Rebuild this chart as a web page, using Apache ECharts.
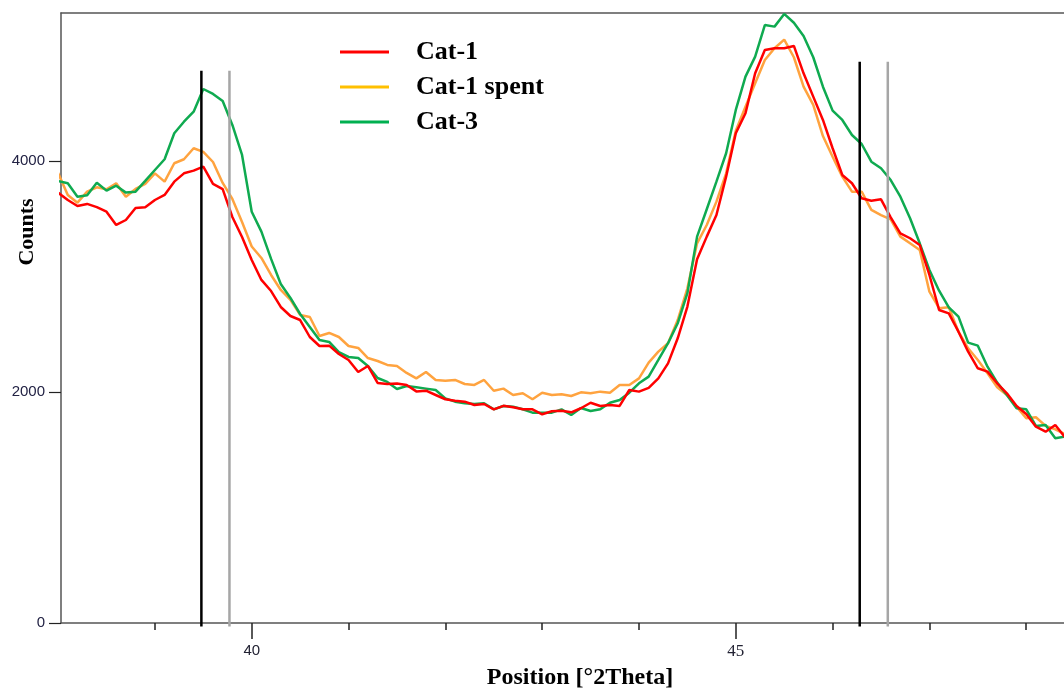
<!DOCTYPE html>
<html>
<head>
<meta charset="utf-8">
<script src="https://cdn.jsdelivr.net/npm/echarts@6/dist/echarts.min.js"></script>
<style>html,body{margin:0;padding:0;background:#fff;}#c{width:1064px;height:689px;}</style>
</head>
<body>
<div id="c"></div>
<script>
// Position [°2Theta]
const positions = [
 38.0,38.1,38.2,38.3,38.4,38.5,38.6,38.7,38.8,38.9,
 39.0,39.1,39.2,39.3,39.4,39.5,39.6,39.7,39.8,39.9,
 40.0,40.1,40.2,40.3,40.4,40.5,40.6,40.7,40.8,40.9,
 41.0,41.1,41.2,41.3,41.4,41.5,41.6,41.7,41.8,41.9,
 42.0,42.1,42.2,42.3,42.4,42.5,42.6,42.7,42.8,42.9,
 43.0,43.1,43.2,43.3,43.4,43.5,43.6,43.7,43.8,43.9,
 44.0,44.1,44.2,44.3,44.4,44.5,44.6,44.7,44.8,44.9,
 45.0,45.1,45.2,45.3,45.4,45.5,45.6,45.7,45.8,45.9,
 46.0,46.1,46.2,46.3,46.4,46.5,46.6,46.7,46.8,46.9,
 47.0,47.1,47.2,47.3,47.4,47.5,47.6,47.7,47.8,47.9,
 48.0,48.1,48.2,48.3,48.4
];
const cat1 = [
 3726,3662,3610,3628,3600,3561,3446,3489,3593,3599,
 3662,3706,3821,3893,3916,3951,3801,3757,3515,3342,
 3143,2970,2874,2736,2658,2623,2476,2398,2401,2329,
 2277,2173,2225,2078,2069,2074,2061,2005,2011,1974,
 1937,1925,1916,1887,1896,1850,1880,1868,1850,1850,
 1807,1833,1838,1824,1859,1907,1879,1887,1879,2017,
 2003,2035,2118,2248,2465,2739,3149,3345,3532,3864,
 4240,4413,4759,4961,4976,4976,4996,4759,4557,4355,
 4110,3879,3807,3677,3656,3668,3512,3374,3331,3273,
 3013,2710,2681,2522,2349,2205,2176,2075,1989,1879,
 1810,1700,1656,1714,1608
];
const cat1Spent = [
 3896,3706,3639,3734,3772,3755,3807,3691,3758,3801,
 3893,3821,3980,4015,4110,4078,3991,3810,3671,3472,
 3260,3160,3013,2883,2797,2667,2649,2485,2511,2476,
 2398,2381,2294,2268,2234,2225,2165,2118,2173,2104,
 2098,2104,2069,2061,2104,2011,2029,1974,1989,1937,
 1994,1974,1980,1965,1997,1989,2003,1994,2061,2061,
 2118,2254,2349,2422,2623,2898,3287,3446,3648,3893,
 4262,4470,4673,4874,4976,5050,4898,4643,4485,4216,
 4037,3864,3734,3734,3576,3532,3495,3345,3287,3229,
 2868,2725,2733,2522,2378,2277,2162,2041,1974,1873,
 1772,1781,1706,1677,1636
];
const cat3 = [
 3827,3807,3691,3703,3812,3743,3786,3726,3734,3827,
 3922,4015,4240,4340,4427,4623,4580,4519,4312,4052,
 3561,3388,3152,2935,2814,2675,2563,2450,2433,2346,
 2303,2294,2225,2121,2087,2026,2052,2041,2029,2017,
 1945,1916,1902,1896,1902,1850,1879,1873,1850,1821,
 1821,1821,1850,1801,1861,1835,1850,1907,1931,1994,
 2075,2133,2277,2422,2595,2855,3345,3582,3821,4067,
 4442,4730,4903,5177,5163,5273,5197,5082,4898,4643,
 4436,4355,4225,4147,3994,3937,3835,3691,3504,3287,
 3056,2877,2733,2652,2427,2401,2219,2081,1974,1859,
 1850,1706,1714,1599,1613
];
// reference lines
const refLineX = [39.48, 39.77, 46.28, 46.57];
const refLineTop = [4780, 4780, 4860, 4860];
const refLineColor = ['#000000', '#A6A6A6', '#000000', '#A6A6A6'];
const refLineBottom = -30;
// axes
const xMin = 38.03, xMax = 48.39;
const yMin = 0, yMax = 5281;
const yTickValues = [0, 2000, 4000];
const xLabelValues = [40, 45];
const xMinorTicks = [39, 40, 41, 42, 43, 44, 45, 46, 47, 48];
const seriesNames = ['Cat-1', 'Cat-1 spent', 'Cat-3'];

const pair = (ys) => positions.map((x, i) => [x, ys[i]]);
const axisColor = '#555555';

const refSeries = refLineX.map((x, i) => ({
  type: 'line', xAxisIndex: 0, yAxisIndex: 0, silent: true, clip: false,
  symbol: 'none', z: 5,
  lineStyle: { color: refLineColor[i], width: 2.5 },
  data: [[x, refLineBottom], [x, refLineTop[i]]]
}));

const chart = echarts.init(document.getElementById('c'), null, { renderer: 'canvas' });
chart.setOption({
  animation: false,
  backgroundColor: '#ffffff',
  grid: { left: 61, right: 0, top: 13, bottom: 66 },
  legend: {
    orient: 'vertical', left: 335, top: 34, itemGap: 9,
    icon: 'rect', itemWidth: 49, itemHeight: 3,
    data: [
      { name: seriesNames[0], itemStyle: { color: '#FF0000' } },
      { name: seriesNames[1], itemStyle: { color: '#FFC000' } },
      { name: seriesNames[2], itemStyle: { color: '#00B050' } }
    ],
    textStyle: { fontFamily: 'Liberation Serif', fontWeight: 'bold', fontSize: 26, color: '#000', lineHeight: 26, padding: [0, 0, 0, 22] }
  },
  xAxis: [
    {
      type: 'value', position: 'bottom', min: xMin, max: xMax,
      axisLine: { show: true, onZero: false, lineStyle: { color: axisColor, width: 1.5 } },
      axisTick: { show: true, length: 16, customValues: xLabelValues, lineStyle: { color: '#222', width: 1.5 } },
      axisLabel: {
        show: true, customValues: xLabelValues, margin: 20,
        formatter: (v) => (v === 45 ? '{s|' + v + '}' : '{a|' + v + '}'),
        rich: {
          a: { fontFamily: 'Liberation Sans', fontSize: 15, color: '#222233' },
          s: { fontFamily: 'Liberation Serif', fontSize: 17, color: '#222233' }
        }
      },
      splitLine: { show: false }
    },
    {
      type: 'value', position: 'bottom', min: xMin, max: xMax,
      axisLine: { show: false, onZero: false },
      axisTick: { show: true, length: 7, customValues: xMinorTicks, lineStyle: { color: '#222', width: 1.5 } },
      axisLabel: { show: false },
      splitLine: { show: false }
    },
    {
      type: 'value', position: 'top', min: xMin, max: xMax,
      axisLine: { show: true, onZero: false, lineStyle: { color: axisColor, width: 1.5 } },
      axisTick: { show: false }, axisLabel: { show: false }, splitLine: { show: false }
    }
  ],
  yAxis: {
    type: 'value', min: yMin, max: yMax,
    axisLine: { show: true, onZero: false, lineStyle: { color: axisColor, width: 1.5 } },
    axisTick: { show: true, length: 12, customValues: yTickValues, lineStyle: { color: '#222', width: 1.2 } },
    axisLabel: {
      margin: 16, customValues: yTickValues, fontFamily: 'Liberation Sans', fontSize: 15, color: '#222244',
      formatter: (v) => String(v)
    },
    splitLine: { show: false }
  },
  series: [
    { name: seriesNames[1], type: 'line', symbol: 'none', z: 2, data: pair(cat1Spent),
      itemStyle: { color: '#FFA33F' }, lineStyle: { color: '#FFA33F', width: 2.5 } },
    { name: seriesNames[2], type: 'line', symbol: 'none', z: 3, data: pair(cat3),
      itemStyle: { color: '#00B050' }, lineStyle: { color: '#0FAA50', width: 2.5 } },
    { name: seriesNames[0], type: 'line', symbol: 'none', z: 4, data: pair(cat1),
      itemStyle: { color: '#FF0000' }, lineStyle: { color: '#FF0000', width: 2.5 } }
  ].concat(refSeries),
  graphic: [
    { type: 'text', x: 580, y: 678, style: { text: 'Position [°2Theta]', fontFamily: 'Liberation Serif', fontWeight: 'bold', fontSize: 24, fill: '#000', align: 'center', verticalAlign: 'middle' } },
    { type: 'text', x: 27, y: 232, rotation: Math.PI / 2, style: { text: 'Counts', fontFamily: 'Liberation Serif', fontWeight: 'bold', fontSize: 22, fill: '#000', align: 'center', verticalAlign: 'middle' } }
  ]
});
</script>
</body>
</html>
